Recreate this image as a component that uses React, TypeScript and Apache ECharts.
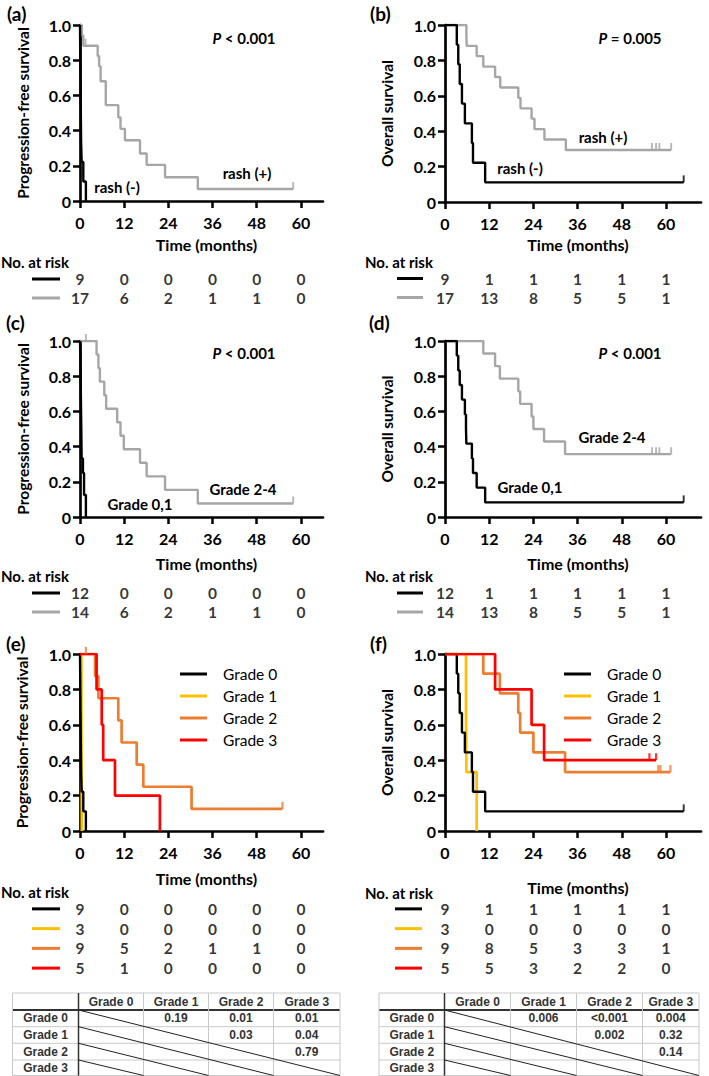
import React, { useEffect, useRef } from "react";
import * as echarts from "echarts";

const FONT = "Lato, 'Open Sans', sans-serif";
const TABLE_FONT = "'Liberation Sans', Arial, sans-serif";
const TIME_TICKS = [0, 12, 24, 36, 48, 60];

const BLACK = "#000000";
const GRAY = "#a6a6a6";
const YELLOW = "#ffc000";
const ORANGE = "#ed7d31";
const RED = "#ff0000";

// (a) PFS by rash
const aNegT = [0, 0.05, 0.1, 0.15, 0.2, 0.25, 0.3, 0.45, 0.9, 1.6];
const aNegS = [1, 0.889, 0.778, 0.667, 0.556, 0.444, 0.333, 0.222, 0.111, 0];
const aPosT = [0, 0.5, 0.9, 4.8, 5.2, 5.6, 7.0, 10.4, 11.0, 12.2, 16.3, 18.1, 23.1, 32.0, 57.9];
const aPosS = [1, 0.941, 0.882, 0.824, 0.765, 0.68, 0.545, 0.475, 0.41, 0.345, 0.27, 0.205, 0.135, 0.068, 0.068];
const aPosCens = [1.5, 57.9];

// (b) OS by rash
const bNegT = [0, 3.2, 3.6, 4.0, 4.6, 5.4, 7.3, 7.6, 10.9, 64.8];
const bNegS = [1, 0.889, 0.778, 0.667, 0.556, 0.444, 0.333, 0.222, 0.111, 0.111];
const bNegCens = [64.8];
const bPosT = [0, 5.8, 5.9, 8.6, 10.4, 13.6, 15.0, 19.9, 20.5, 23.5, 24.3, 27.0, 32.8, 61.4];
const bPosS = [1, 0.941, 0.882, 0.824, 0.765, 0.706, 0.647, 0.588, 0.529, 0.471, 0.412, 0.353, 0.294, 0.294];
const bPosCens = [56.2, 57.3, 58.2, 61.4];

// (c) PFS by grade 0,1 vs 2-4
const cNegT = [0, 0.1, 0.15, 0.2, 0.25, 0.3, 0.35, 0.4, 0.45, 0.8, 1.1, 1.6];
const cNegS = [1, 0.917, 0.833, 0.75, 0.667, 0.583, 0.5, 0.417, 0.333, 0.25, 0.125, 0];
const cPosT = [0, 4.5, 5.0, 5.4, 6.6, 7.1, 10.1, 11.0, 11.9, 16.3, 18.1, 23.1, 32.0, 57.9];
const cPosS = [1, 0.923, 0.846, 0.769, 0.692, 0.615, 0.538, 0.462, 0.385, 0.308, 0.231, 0.154, 0.077, 0.077];
const cPosCens = [1.6, 57.9];

// (d) OS by grade 0,1 vs 2-4
const dNegT = [0, 3.2, 3.6, 4.0, 4.6, 5.4, 5.7, 5.8, 7.3, 7.6, 8.6, 10.9, 64.8];
const dNegS = [1, 0.917, 0.833, 0.75, 0.667, 0.583, 0.5, 0.417, 0.333, 0.25, 0.167, 0.083, 0.083];
const dNegCens = [64.8];
const dPosT = [0, 10.4, 13.6, 14.9, 19.9, 20.4, 23.5, 24.0, 26.9, 32.6, 61.4];
const dPosS = [1, 0.929, 0.857, 0.786, 0.714, 0.643, 0.571, 0.5, 0.429, 0.357, 0.357];
const dPosCens = [56.2, 57.3, 58.2, 61.4];

// (e) PFS by grade
const eG0T = [0, 0.05, 0.1, 0.15, 0.2, 0.25, 0.3, 0.45, 0.9, 1.6];
const eG0S = [1, 0.889, 0.778, 0.667, 0.556, 0.444, 0.333, 0.222, 0.111, 0];
const eG1T = [0, 0.4, 0.45, 0.5];
const eG1S = [1, 0.667, 0.333, 0];
const eG2T = [0, 4.1, 5.0, 10.4, 11.3, 15.4, 17.2, 30.3, 55.0];
const eG2S = [1, 0.875, 0.75, 0.625, 0.5, 0.375, 0.25, 0.125, 0.125];
const eG2Cens = [1.6, 55.0];
const eG3T = [0, 4.5, 5.9, 6.3, 9.5, 21.7];
const eG3S = [1, 0.8, 0.6, 0.4, 0.2, 0];

// (f) OS by grade
const fG0T = [0, 3.2, 3.6, 4.0, 4.6, 5.4, 7.3, 7.6, 10.9, 64.8];
const fG0S = [1, 0.889, 0.778, 0.667, 0.556, 0.444, 0.333, 0.222, 0.111, 0.111];
const fG0Cens = [64.8];
const fG1T = [0, 5.7, 5.8, 8.6];
const fG1S = [1, 0.667, 0.333, 0];
const fG2T = [0, 10.4, 14.9, 19.9, 20.4, 24.0, 32.6, 61.2];
const fG2S = [1, 0.889, 0.778, 0.667, 0.556, 0.444, 0.333, 0.333];
const fG2Cens = [57.9, 58.5, 61.2];
const fG3T = [0, 13.6, 23.5, 26.9, 57.3];
const fG3S = [1, 0.8, 0.6, 0.4, 0.4];
const fG3Cens = [55.5, 57.3];

// Numbers at risk (columns at 0, 12, 24, 36, 48, 60 months)
const aRisk = [[9, 0, 0, 0, 0, 0], [17, 6, 2, 1, 1, 0]];
const bRisk = [[9, 1, 1, 1, 1, 1], [17, 13, 8, 5, 5, 1]];
const cRisk = [[12, 0, 0, 0, 0, 0], [14, 6, 2, 1, 1, 0]];
const dRisk = [[12, 1, 1, 1, 1, 1], [14, 13, 8, 5, 5, 1]];
const eRisk = [[9, 0, 0, 0, 0, 0], [3, 0, 0, 0, 0, 0], [9, 5, 2, 1, 1, 0], [5, 1, 0, 0, 0, 0]];
const fRisk = [[9, 1, 1, 1, 1, 1], [3, 0, 0, 0, 0, 0], [9, 8, 5, 3, 3, 1], [5, 5, 3, 2, 2, 0]];

// Pairwise P-value tables
const GRADES = ["Grade 0", "Grade 1", "Grade 2", "Grade 3"];
const pfsPairP = [["", "0.19", "0.01", "0.01"], ["", "", "0.03", "0.04"], ["", "", "", "0.79"], ["", "", "", ""]];
const osPairP = [["", "0.006", "<0.001", "0.004"], ["", "", "0.002", "0.32"], ["", "", "", "0.14"], ["", "", "", ""]];

type Curve = { name: string; t: number[]; s: number[]; cens?: number[]; color: string; width: number };

function stepAt(t: number[], s: number[], x: number) {
  let v = s[0];
  for (let i = 0; i < t.length; i++) if (t[i] <= x) v = s[i];
  return v;
}

const LEFT = { x: 80, w: 243, max: 66 };
const RIGHT = { x: 445, w: 256, max: 69.5 };
const LW = 2.4;
const CW = 2.7;

const panels = [
  {
    label: "(a)", labelX: 7, labelY: 13, col: LEFT, top: 25, h: 176,
    yName: "Progression-free survival", yNameX: 23, p: "< 0.001", pX: 244, pY: 38,
    curves: [
      { name: "rash (+)", t: aPosT, s: aPosS, cens: aPosCens, color: GRAY, width: LW },
      { name: "rash (-)", t: aNegT, s: aNegS, color: BLACK, width: LW },
    ] as Curve[],
    texts: [{ text: "rash (+)", x: 247, y: 173 }, { text: "rash (-)", x: 117, y: 187 }],
    timeY: 244, riskLabelY: 262, riskTop: 269.5, riskH: 38, risk: aRisk, riskColors: [BLACK, GRAY], markX: [32, 60], riskLabelX: 1,
  },
  {
    label: "(b)", labelX: 370, labelY: 13, col: RIGHT, top: 25, h: 177,
    yName: "Overall survival", yNameX: 387, p: "= 0.005", pX: 630, pY: 38,
    curves: [
      { name: "rash (+)", t: bPosT, s: bPosS, cens: bPosCens, color: GRAY, width: LW },
      { name: "rash (-)", t: bNegT, s: bNegS, cens: bNegCens, color: BLACK, width: LW },
    ] as Curve[],
    texts: [{ text: "rash (+)", x: 603, y: 137 }, { text: "rash (-)", x: 520, y: 168 }],
    timeY: 244, riskLabelY: 262, riskTop: 269, riskH: 38, risk: bRisk, riskColors: [BLACK, GRAY], markX: [397, 423], riskLabelX: 365,
  },
  {
    label: "(c)", labelX: 6, labelY: 322, col: LEFT, top: 341, h: 176,
    yName: "Progression-free survival", yNameX: 23, p: "< 0.001", pX: 244, pY: 353,
    curves: [
      { name: "Grade 2-4", t: cPosT, s: cPosS, cens: cPosCens, color: GRAY, width: LW },
      { name: "Grade 0,1", t: cNegT, s: cNegS, color: BLACK, width: LW },
    ] as Curve[],
    texts: [{ text: "Grade 2-4", x: 243, y: 489 }, { text: "Grade 0,1", x: 140, y: 504 }],
    timeY: 563, riskLabelY: 576, riskTop: 583.5, riskH: 38, risk: cRisk, riskColors: [BLACK, GRAY], markX: [32, 60], riskLabelX: 1,
  },
  {
    label: "(d)", labelX: 369, labelY: 322, col: RIGHT, top: 341, h: 176,
    yName: "Overall survival", yNameX: 387, p: "< 0.001", pX: 630, pY: 353,
    curves: [
      { name: "Grade 2-4", t: dPosT, s: dPosS, cens: dPosCens, color: GRAY, width: LW },
      { name: "Grade 0,1", t: dNegT, s: dNegS, cens: dNegCens, color: BLACK, width: LW },
    ] as Curve[],
    texts: [{ text: "Grade 2-4", x: 612, y: 437 }, { text: "Grade 0,1", x: 530, y: 487 }],
    timeY: 563, riskLabelY: 576, riskTop: 583.5, riskH: 38, risk: dRisk, riskColors: [BLACK, GRAY], markX: [397, 423], riskLabelX: 365,
  },
  {
    label: "(e)", labelX: 6, labelY: 643, col: LEFT, top: 654, h: 177,
    yName: "Progression-free survival", yNameX: 22, p: "", pX: 0, pY: 0,
    curves: [
      { name: "Grade 1", t: eG1T, s: eG1S, color: YELLOW, width: CW },
      { name: "Grade 0", t: eG0T, s: eG0S, color: BLACK, width: LW },
      { name: "Grade 2", t: eG2T, s: eG2S, cens: eG2Cens, color: ORANGE, width: CW },
      { name: "Grade 3", t: eG3T, s: eG3S, color: RED, width: CW },
    ] as Curve[],
    texts: [],
    timeY: 878, riskLabelY: 892, riskTop: 899, riskH: 79, risk: eRisk, riskColors: [BLACK, YELLOW, ORANGE, RED], markX: [32, 60], riskLabelX: 1,
    legend: { left: 180, top: 666 },
  },
  {
    label: "(f)", labelX: 370, labelY: 643, col: RIGHT, top: 654, h: 177,
    yName: "Overall survival", yNameX: 387, p: "", pX: 0, pY: 0,
    curves: [
      { name: "Grade 1", t: fG1T, s: fG1S, color: YELLOW, width: CW },
      { name: "Grade 0", t: fG0T, s: fG0S, cens: fG0Cens, color: BLACK, width: LW },
      { name: "Grade 2", t: fG2T, s: fG2S, cens: fG2Cens, color: ORANGE, width: CW },
      { name: "Grade 3", t: fG3T, s: fG3S, cens: fG3Cens, color: RED, width: CW },
    ] as Curve[],
    texts: [],
    timeY: 887, riskLabelY: 893, riskTop: 899, riskH: 79, risk: fRisk, riskColors: [BLACK, YELLOW, ORANGE, RED], markX: [395, 422], riskLabelX: 365,
    legend: { left: 564, top: 666 },
  },
];

function boldText(text: string, x: number, y: number, size: number, align = "center", extra: any = {}) {
  return {
    type: "text", x, y, ...extra,
    style: { text, fill: "#000", fontFamily: FONT, fontWeight: "bold", fontSize: size, align, verticalAlign: "middle" },
  };
}

function tableGraphics(colXs: number[], rowYs: number[], data: string[][]) {
  const g: any[] = [];
  const light = "#c9c9c9";
  const right = colXs[colXs.length - 1];
  const bottom = rowYs[rowYs.length - 1];
  rowYs.forEach((y, i) => {
    g.push({ type: "line", shape: { x1: colXs[0], y1: y, x2: right, y2: y }, style: { stroke: i === 1 ? "#333" : light, lineWidth: i === 1 ? 2 : 1 } });
  });
  colXs.forEach((x, i) => {
    g.push({ type: "line", shape: { x1: x, y1: rowYs[0], x2: x, y2: bottom }, style: { stroke: i === 1 ? "#333" : light, lineWidth: i === 1 ? 1.5 : 1 } });
  });
  for (let k = 0; k < 4; k++) {
    g.push({ type: "line", shape: { x1: colXs[1], y1: rowYs[k + 1], x2: colXs[5 - k], y2: bottom }, style: { stroke: "#222", lineWidth: 1 } });
  }
  const txt = (text: string, x: number, y: number) => ({
    type: "text", x, y,
    style: { text, fill: "#333", fontFamily: TABLE_FONT, fontWeight: "bold", fontSize: 12, align: "center", verticalAlign: "middle" },
  });
  GRADES.forEach((gname, j) => g.push(txt(gname, (colXs[j + 1] + colXs[j + 2]) / 2, (rowYs[0] + rowYs[1]) / 2)));
  GRADES.forEach((gname, i) => g.push(txt(gname, (colXs[0] + colXs[1]) / 2, (rowYs[i + 1] + rowYs[i + 2]) / 2)));
  data.forEach((row, i) => row.forEach((v, j) => {
    if (v) g.push(txt(v, (colXs[j + 1] + colXs[j + 2]) / 2, (rowYs[i + 1] + rowYs[i + 2]) / 2));
  }));
  return g;
}

function buildOption() {
  const grid: any[] = [];
  const xAxis: any[] = [];
  const yAxis: any[] = [];
  const series: any[] = [];
  const graphic: any[] = [];
  const legend: any[] = [];

  panels.forEach((p, i) => {
    grid.push({ left: p.col.x, top: p.top, width: p.col.w, height: p.h });
    xAxis.push({
      gridIndex: i, type: "value", min: 0, max: p.col.max, interval: 12,
      axisLine: { show: true, onZero: false, lineStyle: { color: "#000", width: 2.7 } },
      axisTick: { show: true, length: 7, lineStyle: { color: "#000", width: 2.5 }, customValues: TIME_TICKS },
      axisLabel: { customValues: TIME_TICKS, margin: 13, fontFamily: FONT, fontWeight: "bold", fontSize: 16, color: "#000" },
      splitLine: { show: false },
    });
    yAxis.push({
      gridIndex: i, type: "value", min: 0, max: 1, interval: 0.2,
      axisLine: { show: true, onZero: false, lineStyle: { color: "#000", width: 2.7 } },
      axisTick: { show: true, length: 7, lineStyle: { color: "#000", width: 2.5 } },
      axisLabel: {
        margin: 9, fontFamily: FONT, fontWeight: "bold", fontSize: 16, color: "#000",
        formatter: (v: number) => (v === 0 ? "0" : v.toFixed(1)),
      },
      splitLine: { show: false },
    });

    p.curves.forEach((c) => {
      series.push({
        type: "line", name: c.name, xAxisIndex: i, yAxisIndex: i, step: "end",
        symbol: "none", showSymbol: false, color: c.color,
        lineStyle: { color: c.color, width: c.width },
        data: c.t.map((t, k) => [t, c.s[k]]),
        z: 3,
      });
      if (c.cens && c.cens.length) {
        series.push({
          type: "scatter", name: c.name, xAxisIndex: i, yAxisIndex: i, clip: false,
          symbol: "rect", symbolSize: [c.width * 0.8, 7], symbolOffset: [0, -3.5],
          itemStyle: { color: c.color }, color: c.color,
          data: c.cens.map((t) => [t, stepAt(c.t, c.s, t)]),
          z: 3,
        });
      }
    });

    graphic.push(boldText(p.label, p.labelX, p.labelY, 19, "left"));
    graphic.push(boldText(p.yName, p.yNameX, p.top + p.h / 2, 15.5, "center", { rotation: Math.PI / 2 }));
    graphic.push(boldText("Time (months)", p.col.x + p.col.w / 2 + 5, p.timeY, 16));
    if (p.p) {
      graphic.push({
        type: "text", x: p.pX, y: p.pY,
        style: {
          text: "{i|P} " + p.p, fill: "#000", fontFamily: FONT, fontWeight: "bold", fontSize: 15,
          align: "center", verticalAlign: "middle",
          rich: { i: { fontStyle: "italic", fontWeight: "bold", fontFamily: FONT, fontSize: 15, fill: "#000" } },
        },
      });
    }
    p.texts.forEach((t) => graphic.push(boldText(t.text, t.x, t.y, 15)));
    graphic.push(boldText("No. at risk", p.riskLabelX, p.riskLabelY, 15, "left"));

    if ((p as any).legend) {
      const lg = (p as any).legend;
      legend.push({
        left: lg.left, top: lg.top, padding: 0, orient: "vertical", icon: "rect", itemWidth: 27, itemHeight: 3, itemGap: 6,
        data: GRADES, selectedMode: false,
        formatter: "{a|{name}}",
        textStyle: {
          rich: { a: { padding: [0, 0, 0, 11], fontFamily: FONT, fontSize: 15.5, color: "#000", lineHeight: 14 } },
        },
      });
    }
  });

  panels.forEach((p, i) => {
    const gi = panels.length + i;
    grid.push({ left: p.col.x, top: p.riskTop, width: p.col.w, height: p.riskH });
    xAxis.push({ gridIndex: gi, type: "value", min: 0, max: p.col.max, show: false });
    yAxis.push({ gridIndex: gi, type: "category", data: p.risk.map((_, k) => String(k)), inverse: true, show: false });
    const data: any[] = [];
    p.risk.forEach((row, r) => row.forEach((v, j) => data.push([TIME_TICKS[j], r, v])));
    series.push({
      type: "scatter", xAxisIndex: gi, yAxisIndex: gi, symbolSize: 1, clip: false,
      itemStyle: { color: "rgba(0,0,0,0)" }, silent: true,
      label: {
        show: true, position: "inside", formatter: (prm: any) => String(prm.value[2]),
        fontFamily: FONT, fontWeight: "bold", fontSize: 15.5, color: "#000",
      },
      data,
    });
    const band = p.riskH / p.risk.length;
    p.riskColors.forEach((c, r) => {
      const y = p.riskTop + band * (r + 0.5);
      graphic.push({ type: "line", shape: { x1: p.markX[0], y1: y, x2: p.markX[1], y2: y }, style: { stroke: c, lineWidth: 3 } });
    });
  });

  const rowYs = [993, 1010, 1026.7, 1043.3, 1060, 1075.5];
  graphic.push(...tableGraphics([12.5, 78.5, 143.5, 208.5, 273.5, 340], rowYs, pfsPairP));
  graphic.push(...tableGraphics([379, 444.5, 510.5, 576.5, 642.5, 699], rowYs, osPairP));

  return { animation: false, backgroundColor: "#fff", grid, xAxis, yAxis, series, graphic, legend };
}

export default function App() {
  const ref = useRef<HTMLDivElement>(null);
  useEffect(() => {
    const chart = echarts.init(ref.current!, null, { renderer: "svg" });
    chart.setOption(buildOption() as any);
    return () => chart.dispose();
  }, []);
  return <div ref={ref} style={{ position: "absolute", left: 0, top: 0, width: 709, height: 1076, background: "#fff" }} />;
}
